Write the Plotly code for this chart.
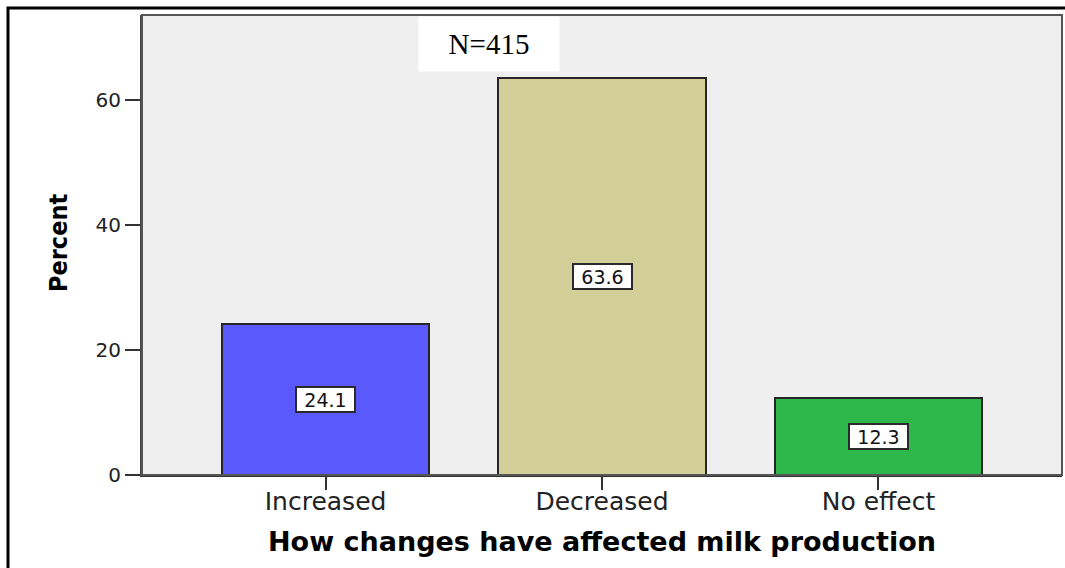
import plotly.graph_objects as go

# Survey responses: effect of changes on milk production (percent of N=415)
categories = ["Increased", "Decreased", "No effect"]
percents = [24.1, 63.6, 12.3]
bar_colors = ["#5a5afc", "#d3cf98", "#2eb84c"]
sample_label = "N=415"

W, H = 1065, 568
ML, MR, MT, MB = 142, 3, 15, 93
plot_w = W - ML - MR
plot_h = H - MT - MB


def px_x(px):
    return (px - ML) / plot_w


def px_y(py):
    return (H - MB - py) / plot_h


fig = go.Figure()
fig.add_trace(go.Bar(
    x=categories,
    y=percents,
    width=0.75,
    marker=dict(color=bar_colors, line=dict(color="#262626", width=2)),
    hoverinfo="x+y",
))

# value boxes centred half-way up each bar
for cat, val in zip(categories, percents):
    fig.add_annotation(
        x=cat, y=val / 2, xref="x", yref="y",
        xanchor="center", yanchor="middle",
        text=f"{val:.1f}", showarrow=False,
        font=dict(family="DejaVu Sans", size=19, color="#111"),
        bgcolor="white", bordercolor="#2a2a2a", borderwidth=2, borderpad=1,
        width=55, height=21,
    )

# sample size note
fig.add_annotation(
    x=px_x(489), y=px_y(44), xref="paper", yref="paper",
    xanchor="center", yanchor="middle",
    text=sample_label, showarrow=False,
    font=dict(family="Liberation Serif", size=29, color="#000"),
    bgcolor="white", width=140, height=54, borderpad=0,
)

# axis titles
fig.add_annotation(
    x=px_x(602), y=px_y(541), xref="paper", yref="paper",
    xanchor="center", yanchor="middle",
    text="<b>How changes have affected milk production</b>", showarrow=False,
    font=dict(family="DejaVu Sans", size=27, color="#000"),
)
fig.add_annotation(
    x=px_x(58), y=px_y(243), xref="paper", yref="paper",
    xanchor="center", yanchor="middle",
    text="<b>Percent</b>", showarrow=False, textangle=-90,
    font=dict(family="Liberation Sans Narrow, DejaVu Sans Condensed, Arial Narrow, sans-serif",
              size=25, color="#000"),
)

# plot frame and outer page border
fig.add_shape(type="rect", xref="paper", yref="paper", x0=0, y0=0, x1=1, y1=1,
              line=dict(color="#555", width=2), layer="above")
fig.add_shape(type="path", xref="paper", yref="paper",
              path=f"M {px_x(8)},{px_y(H + 5)} L {px_x(8)},{px_y(8)} L {px_x(W + 5)},{px_y(8)}",
              line=dict(color="#000", width=3))

fig.update_layout(
    width=W, height=H,
    margin=dict(l=ML, r=MR, t=MT, b=MB),
    paper_bgcolor="white",
    plot_bgcolor="#efefef",
    showlegend=False,
    bargap=0,
    xaxis=dict(
        type="category",
        range=[-0.664, 2.664],
        showgrid=False, zeroline=False,
        showline=True, linecolor="#333", linewidth=2,
        ticks="outside", ticklen=13, tickwidth=2, tickcolor="#333",
        ticklabelstandoff=-10,
        tickfont=dict(family="DejaVu Sans", size=25, color="#222"),
    ),
    yaxis=dict(
        range=[0, 73.6],
        tickvals=[0, 20, 40, 60],
        showgrid=False, zeroline=False,
        showline=True, linecolor="#444", linewidth=2,
        ticks="outside", ticklen=15, tickwidth=2, tickcolor="#333",
        tickfont=dict(family="DejaVu Sans", size=20, color="#222"),
    ),
)

fig.write_html("out.html")
